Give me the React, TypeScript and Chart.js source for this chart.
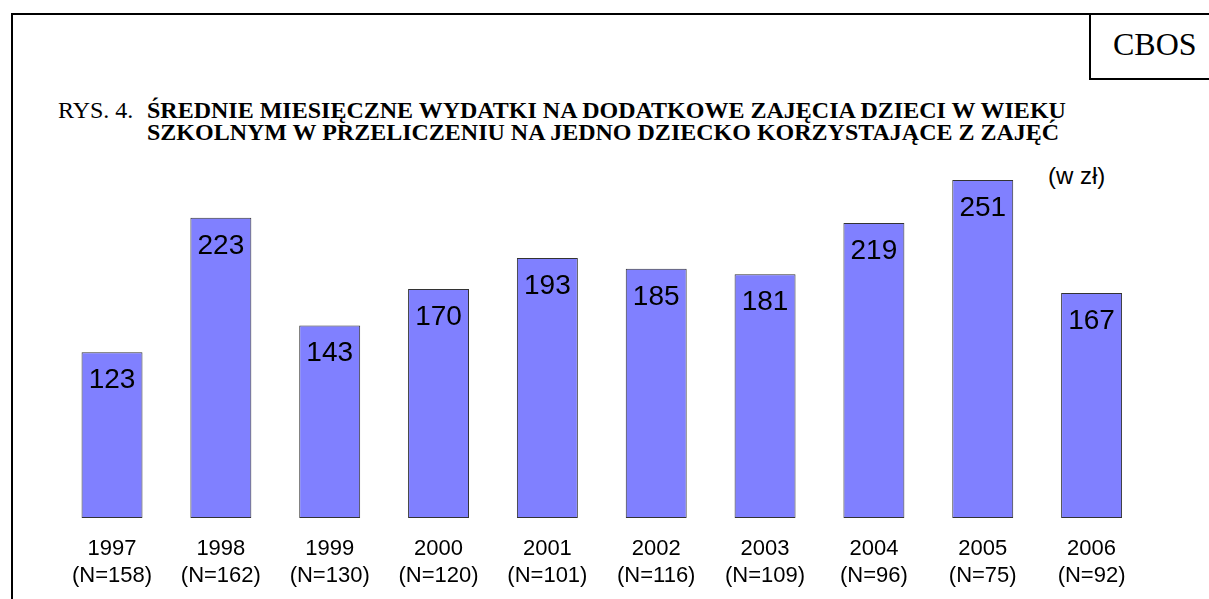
import React, { useEffect, useRef } from "react";
import { Chart, registerables } from "chart.js";

Chart.register(...registerables);

const years = ["1997", "1998", "1999", "2000", "2001", "2002", "2003", "2004", "2005", "2006"];
const sampleSizes = ["(N=158)", "(N=162)", "(N=130)", "(N=120)", "(N=101)", "(N=116)", "(N=109)", "(N=96)", "(N=75)", "(N=92)"];
const values = [123, 223, 143, 170, 193, 185, 181, 219, 251, 167];

const titleLine1 = "ŚREDNIE MIESIĘCZNE WYDATKI NA DODATKOWE ZAJĘCIA DZIECI W WIEKU";
const titleLine2 = "SZKOLNYM W PRZELICZENIU NA JEDNO DZIECKO KORZYSTAJĄCE Z ZAJĘĆ";

const valueLabelPlugin = {
  id: "valueLabels",
  afterDatasetsDraw(chart: any) {
    const ctx = chart.ctx;
    const meta = chart.getDatasetMeta(0);
    ctx.save();
    ctx.font = "28px 'Liberation Sans', Arial, sans-serif";
    ctx.fillStyle = "#000";
    ctx.textAlign = "center";
    ctx.textBaseline = "alphabetic";
    meta.data.forEach((bar: any, i: number) => {
      ctx.fillText(String(values[i]), bar.x, bar.y + 36);
    });
    ctx.restore();
  },
};

export default function App() {
  const canvasRef = useRef<HTMLCanvasElement>(null);

  useEffect(() => {
    const canvas = canvasRef.current;
    if (!canvas) return;
    const labels = years.map((y, i) => [y, sampleSizes[i]]);
    const chart = new Chart(canvas, {
      type: "bar",
      data: {
        labels,
        datasets: [
          {
            data: values,
            backgroundColor: "#8080FF",
            borderColor: "#333333",
            borderWidth: 1,
            borderSkipped: false,
            categoryPercentage: 1,
            barPercentage: 0.56,
          },
        ],
      },
      options: {
        responsive: false,
        animation: false,
        maintainAspectRatio: false,
        layout: { padding: { left: 57.6, right: 63, top: 114, bottom: 0 } },
        plugins: {
          legend: { display: false },
          tooltip: { enabled: false },
          title: { display: false },
        },
        scales: {
          x: {
            grid: { display: false, drawTicks: false },
            border: { display: false },
            ticks: {
              color: "#000",
              font: { family: "'Liberation Sans', Arial, sans-serif", size: 22, lineHeight: 1.2 },
              padding: 18,
              maxRotation: 0,
              autoSkip: false,
            },
            afterFit(scale: any) {
              scale.height = 81;
            },
          },
          y: {
            display: false,
            min: 0,
            max: 300,
          },
        },
      },
      plugins: [valueLabelPlugin],
    });
    return () => chart.destroy();
  }, []);

  const serif = "'Liberation Serif', 'Times New Roman', serif";
  const sans = "'Liberation Sans', Arial, sans-serif";

  return (
    <div
      style={{
        position: "fixed",
        left: 0,
        top: 0,
        width: 1209,
        height: 599,
        overflow: "hidden",
        background: "#fff",
      }}
    >
      <div
        style={{
          position: "absolute",
          left: 11,
          top: 13,
          width: 1300,
          height: 700,
          borderTop: "2px solid #000",
          borderLeft: "2px solid #000",
          boxSizing: "border-box",
        }}
      />
      <div
        style={{
          position: "absolute",
          left: 1089,
          top: 13,
          width: 200,
          height: 67,
          borderLeft: "2px solid #000",
          borderBottom: "2px solid #000",
          boxSizing: "border-box",
        }}
      />
      <div
        style={{
          position: "absolute",
          left: 1113,
          top: 28,
          fontFamily: serif,
          fontSize: 32,
          lineHeight: "32px",
          color: "#000",
          whiteSpace: "nowrap",
        }}
      >
        CBOS
      </div>
      <div
        style={{
          position: "absolute",
          left: 58,
          top: 99,
          fontFamily: serif,
          fontSize: 24,
          lineHeight: "22px",
          color: "#000",
          whiteSpace: "nowrap",
        }}
      >
        RYS. 4.
      </div>
      <div
        style={{
          position: "absolute",
          left: 147,
          top: 99,
          fontFamily: serif,
          fontSize: 24,
          fontWeight: "bold",
          lineHeight: "22px",
          color: "#000",
          whiteSpace: "nowrap",
        }}
      >
        <div>{titleLine1}</div>
        <div>{titleLine2}</div>
      </div>
      <div
        style={{
          position: "absolute",
          left: 1048,
          top: 164,
          fontFamily: sans,
          fontSize: 24,
          lineHeight: "24px",
          color: "#000",
          whiteSpace: "nowrap",
        }}
      >
        (w zł)
      </div>
      <canvas
        ref={canvasRef}
        width={1209}
        height={599}
        style={{ position: "absolute", left: 0, top: 0, width: 1209, height: 599 }}
      />
    </div>
  );
}
